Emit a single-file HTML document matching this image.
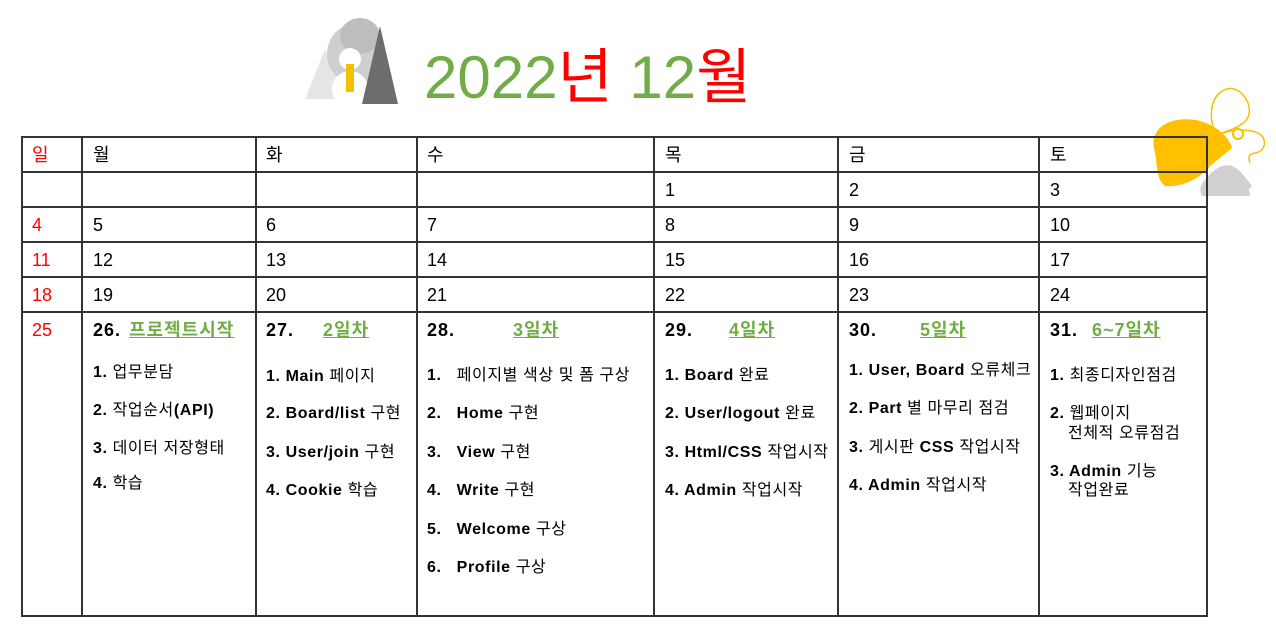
<!DOCTYPE html>
<html><head><meta charset="utf-8">
<style>
body{margin:0;width:1276px;height:640px;background:#fff;position:relative;overflow:hidden;font-family:"Liberation Sans","Noto Sans CJK KR",sans-serif;}
.a{position:absolute;white-space:nowrap;}
.h{font-size:18px;line-height:20px;}
.t{font-size:16px;font-weight:bold;line-height:18px;letter-spacing:0.6px;}
.t b,.t{font-weight:bold;}
.k{font-weight:normal;}
.hd{font-size:18px;font-weight:bold;line-height:20px;letter-spacing:1px;}
.g{color:#70ad47;text-decoration:underline;}
.r{color:#ff0000;}
.ln{position:absolute;background:#333;}
</style></head><body>
<svg class="a" style="left:300px;top:14px" width="110" height="100">
<polygon points="25,35 5,85 45,85" fill="#e6e6e6"/>
<ellipse cx="55" cy="40" rx="28" ry="30" fill="#cfcfcf"/>
<ellipse cx="60" cy="22" rx="20" ry="18" fill="#bdbdbd"/>
<circle cx="50" cy="75" r="18" fill="#fff"/>
<circle cx="50" cy="45" r="11" fill="#fff"/>
<rect x="46" y="50" width="8" height="28" fill="#f5c000"/>
<polygon points="80,12 62,90 98,90" fill="#6d6d6d"/>
</svg>
<div class="a" style="left:424px;top:43px;font-size:60px;line-height:70px;"><span style="color:#70ad47">2022</span><span class="r">년</span> <span style="color:#70ad47">12</span><span class="r">월</span></div>
<svg class="a" style="left:1140px;top:78px" width="136" height="120">
<path d="M75,55 C60,15 95,-5 108,25 C115,45 95,50 82,55 C100,50 128,50 124,68 C120,80 105,70 110,85" fill="none" stroke="#f5c000" stroke-width="1.5"/>
<path d="M14,70 C10,50 30,38 55,42 C75,45 90,60 92,70 L70,88 C62,100 40,110 25,108 C15,100 18,85 14,70Z" fill="#ffc000"/>
<path d="M80,95 C95,92 110,105 110,118 L62,118 C58,110 62,98 80,95Z" fill="#d0d0d0"/>
<path d="M78,90 C95,80 105,100 112,108 C105,118 70,120 60,112 C65,100 70,95 78,90Z" fill="#d0d0d0"/>
<circle cx="98" cy="56" r="5" fill="#fff" stroke="#f5c000" stroke-width="2"/>
</svg>
<div>
<div class="ln" style="left:22px;top:136px;width:1186px;height:2px"></div>
<div class="ln" style="left:22px;top:171px;width:1186px;height:2px"></div>
<div class="ln" style="left:22px;top:206px;width:1186px;height:2px"></div>
<div class="ln" style="left:22px;top:241px;width:1186px;height:2px"></div>
<div class="ln" style="left:22px;top:276px;width:1186px;height:2px"></div>
<div class="ln" style="left:22px;top:311px;width:1186px;height:2px"></div>
<div class="ln" style="left:22px;top:615px;width:1186px;height:2px"></div>
<div class="ln" style="left:21px;top:136px;width:2px;height:481px"></div>
<div class="ln" style="left:81px;top:136px;width:2px;height:481px"></div>
<div class="ln" style="left:255px;top:136px;width:2px;height:481px"></div>
<div class="ln" style="left:416px;top:136px;width:2px;height:481px"></div>
<div class="ln" style="left:653px;top:136px;width:2px;height:481px"></div>
<div class="ln" style="left:837px;top:136px;width:2px;height:481px"></div>
<div class="ln" style="left:1038px;top:136px;width:2px;height:481px"></div>
<div class="ln" style="left:1206px;top:136px;width:2px;height:481px"></div>
</div>
<div>
<div class="a h r" style="left:32px;top:145px">일</div>
<div class="a h" style="left:93px;top:145px">월</div>
<div class="a h" style="left:266px;top:145px">화</div>
<div class="a h" style="left:427px;top:145px">수</div>
<div class="a h" style="left:665px;top:145px">목</div>
<div class="a h" style="left:849px;top:145px">금</div>
<div class="a h" style="left:1050px;top:145px">토</div>
</div>
<div>
<div class="a h" style="left:665px;top:180px">1</div><div class="a h" style="left:849px;top:180px">2</div><div class="a h" style="left:1050px;top:180px">3</div>
<div class="a h r" style="left:32px;top:215px">4</div><div class="a h" style="left:93px;top:215px">5</div><div class="a h" style="left:266px;top:215px">6</div><div class="a h" style="left:427px;top:215px">7</div><div class="a h" style="left:665px;top:215px">8</div><div class="a h" style="left:849px;top:215px">9</div><div class="a h" style="left:1050px;top:215px">10</div>
<div class="a h r" style="left:32px;top:250px">11</div><div class="a h" style="left:93px;top:250px">12</div><div class="a h" style="left:266px;top:250px">13</div><div class="a h" style="left:427px;top:250px">14</div><div class="a h" style="left:665px;top:250px">15</div><div class="a h" style="left:849px;top:250px">16</div><div class="a h" style="left:1050px;top:250px">17</div>
<div class="a h r" style="left:32px;top:285px">18</div><div class="a h" style="left:93px;top:285px">19</div><div class="a h" style="left:266px;top:285px">20</div><div class="a h" style="left:427px;top:285px">21</div><div class="a h" style="left:665px;top:285px">22</div><div class="a h" style="left:849px;top:285px">23</div><div class="a h" style="left:1050px;top:285px">24</div>
<div class="a h r" style="left:32px;top:320px">25</div>
</div>
<div>
<div class="a hd" style="left:93px;top:320px">26.</div><div class="a hd g" style="left:129px;top:320px">프로젝트시작</div>
<div class="a t" style="left:93px;top:364px">1. <span class="k">업무분담</span></div>
<div class="a t" style="left:93px;top:402px">2. <span class="k">작업순서</span>(API)</div>
<div class="a t" style="left:93px;top:440px">3. <span class="k">데이터 저장형태</span></div>
<div class="a t" style="left:93px;top:475px">4. <span class="k">학습</span></div>
</div>
<div>
<div class="a hd" style="left:266px;top:320px">27.</div><div class="a hd g" style="left:323px;top:320px">2일차</div>
<div class="a t" style="left:266px;top:368px">1. Main <span class="k">페이지</span></div>
<div class="a t" style="left:266px;top:405px">2. Board/list <span class="k">구현</span></div>
<div class="a t" style="left:266px;top:444px">3. User/join <span class="k">구현</span></div>
<div class="a t" style="left:266px;top:482px">4. Cookie <span class="k">학습</span></div>
</div>
<div>
<div class="a hd" style="left:427px;top:320px">28.</div><div class="a hd g" style="left:513px;top:320px">3일차</div>
<div class="a t" style="left:427px;top:367px">1.&nbsp;&nbsp; <span class="k">페이지별 색상 및 폼 구상</span></div>
<div class="a t" style="left:427px;top:405px">2.&nbsp;&nbsp; Home <span class="k">구현</span></div>
<div class="a t" style="left:427px;top:444px">3.&nbsp;&nbsp; View <span class="k">구현</span></div>
<div class="a t" style="left:427px;top:482px">4.&nbsp;&nbsp; Write <span class="k">구현</span></div>
<div class="a t" style="left:427px;top:521px">5.&nbsp;&nbsp; Welcome <span class="k">구상</span></div>
<div class="a t" style="left:427px;top:559px">6.&nbsp;&nbsp; Profile <span class="k">구상</span></div>
</div>
<div>
<div class="a hd" style="left:665px;top:320px">29.</div><div class="a hd g" style="left:729px;top:320px">4일차</div>
<div class="a t" style="left:665px;top:367px">1. Board <span class="k">완료</span></div>
<div class="a t" style="left:665px;top:405px">2. User/logout <span class="k">완료</span></div>
<div class="a t" style="left:665px;top:444px">3. Html/CSS <span class="k">작업시작</span></div>
<div class="a t" style="left:665px;top:482px">4. Admin <span class="k">작업시작</span></div>
</div>
<div>
<div class="a hd" style="left:849px;top:320px">30.</div><div class="a hd g" style="left:920px;top:320px">5일차</div>
<div class="a t" style="left:849px;top:362px">1. User, Board <span class="k">오류체크</span></div>
<div class="a t" style="left:849px;top:400px">2. Part <span class="k">별 마무리 점검</span></div>
<div class="a t" style="left:849px;top:439px">3. <span class="k">게시판</span> CSS <span class="k">작업시작</span></div>
<div class="a t" style="left:849px;top:477px">4. Admin <span class="k">작업시작</span></div>
</div>
<div>
<div class="a hd" style="left:1050px;top:320px">31.</div><div class="a hd g" style="left:1092px;top:320px">6~7일차</div>
<div class="a t" style="left:1050px;top:367px">1. <span class="k">최종디자인점검</span></div>
<div class="a t" style="left:1050px;top:405px">2. <span class="k">웹페이지</span></div>
<div class="a t" style="left:1068px;top:425px"><span class="k">전체적 오류점검</span></div>
<div class="a t" style="left:1050px;top:463px">3. Admin <span class="k">기능</span></div>
<div class="a t" style="left:1068px;top:482px"><span class="k">작업완료</span></div>
</div>
</body></html>
